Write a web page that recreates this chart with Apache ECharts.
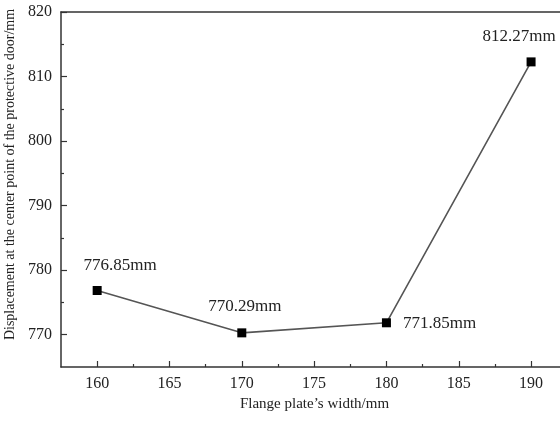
<!DOCTYPE html>
<html>
<head>
<meta charset="utf-8">
<script src="https://cdn.jsdelivr.net/npm/echarts@6/dist/echarts.min.js"></script>
<style>html,body{margin:0;padding:0;background:#fff;}#c{width:560px;height:422px;}</style>
</head>
<body>
<div id="c"></div>
<script>
const widths = [160, 170, 180, 190];
const displacement = [776.85, 770.29, 771.85, 812.27];
const pointLabels = ['776.85mm', '770.29mm', '771.85mm', '812.27mm'];
const xMajorTicks = [160, 165, 170, 175, 180, 185, 190];
const xMinorTicks = [162.5, 167.5, 172.5, 177.5, 182.5, 187.5];
const yMajorTicks = [770, 780, 790, 800, 810, 820];
const yMinorTicks = [775, 785, 795, 805, 815];
const xName = 'Flange plate\u2019s width/mm';
const yName = 'Displacement at the center point of the protective door/mm';

const font = 'Liberation Serif, Times New Roman, serif';
const axisColor = '#333';
const labelPos = [
  {position: 'top', offset: [23, -2]},
  {position: 'top', offset: [3, -3]},
  {position: 'right', offset: [2, 1]},
  {position: 'top', offset: [-12, -2]}
];

const chart = echarts.init(document.getElementById('c'), null, {renderer: 'canvas'});
const xCommon = {type: 'value', min: 157.5, max: 192, gridIndex: 0};
const yCommon = {type: 'value', min: 765, max: 820, gridIndex: 0};

chart.setOption({
  animation: false,
  backgroundColor: '#fff',
  grid: {left: 61, right: 0, top: 12, bottom: 55, containLabel: false, outerBoundsMode: 'none'},
  xAxis: [
    Object.assign({}, xCommon, {
      position: 'bottom',
      name: xName,
      nameLocation: 'middle',
      nameGap: 28,
      nameTextStyle: {fontFamily: font, fontSize: 15, color: '#222', padding: [0, 0, 0, 8]},
      axisLine: {show: true, onZero: false, lineStyle: {color: axisColor, width: 1.5}},
      axisTick: {show: true, inside: true, length: 6, customValues: xMajorTicks, lineStyle: {color: axisColor, width: 1.2}},
      axisLabel: {show: true, customValues: xMajorTicks, margin: 9, fontFamily: font, fontSize: 16, color: '#222'},
      splitLine: {show: false}
    }),
    Object.assign({}, xCommon, {
      position: 'bottom',
      axisLine: {show: false},
      axisTick: {show: true, inside: true, length: 3, customValues: xMinorTicks, lineStyle: {color: axisColor, width: 1.2}},
      axisLabel: {show: false},
      splitLine: {show: false}
    }),
    Object.assign({}, xCommon, {
      position: 'top',
      axisLine: {show: true, onZero: false, lineStyle: {color: axisColor, width: 1.5}},
      axisTick: {show: false},
      axisLabel: {show: false},
      splitLine: {show: false}
    })
  ],
  yAxis: [
    Object.assign({}, yCommon, {
      position: 'left',
      name: yName,
      nameLocation: 'middle',
      nameGap: 40,
      nameRotate: 90,
      nameTextStyle: {fontFamily: font, fontSize: 14, color: '#222', padding: [0, 0, 0, 30]},
      axisLine: {show: true, onZero: false, lineStyle: {color: axisColor, width: 1.5}},
      axisTick: {show: true, inside: true, length: 6, customValues: yMajorTicks, lineStyle: {color: axisColor, width: 1.2}},
      axisLabel: {show: true, customValues: yMajorTicks, margin: 9, fontFamily: font, fontSize: 16, color: '#222'},
      splitLine: {show: false}
    }),
    Object.assign({}, yCommon, {
      position: 'left',
      axisLine: {show: false},
      axisTick: {show: true, inside: true, length: 3, customValues: yMinorTicks, lineStyle: {color: axisColor, width: 1.2}},
      axisLabel: {show: false},
      splitLine: {show: false}
    })
  ],
  series: [{
    type: 'line',
    xAxisIndex: 0,
    yAxisIndex: 0,
    data: widths.map((w, i) => ({
      value: [w, displacement[i]],
      label: Object.assign({show: true, formatter: pointLabels[i]}, labelPos[i])
    })),
    symbol: 'rect',
    symbolSize: 9,
    itemStyle: {color: '#000'},
    lineStyle: {color: '#555', width: 1.6},
    label: {fontFamily: font, fontSize: 17, color: '#222', distance: 10},
    z: 5
  }]
});
</script>
</body>
</html>
